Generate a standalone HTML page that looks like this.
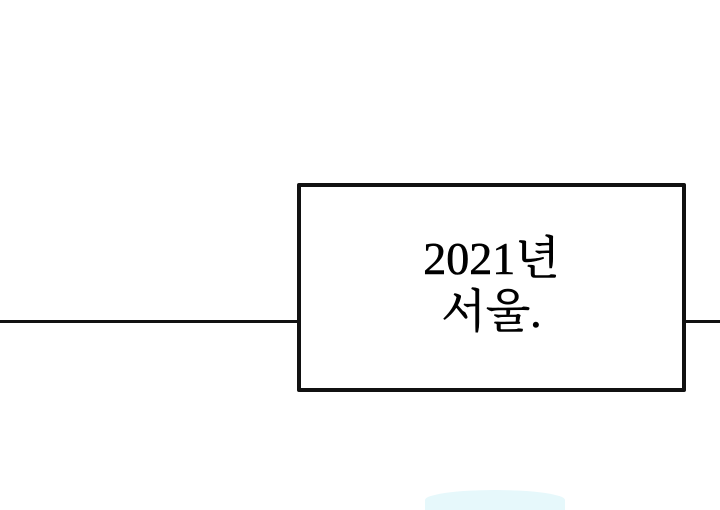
<!DOCTYPE html>
<html><head><meta charset="utf-8"><style>
body{margin:0;width:720px;height:500px;background:#fff;position:relative;overflow:hidden}
.l{position:absolute;height:3px;background:#111;top:320px}
.box{position:absolute;left:297px;top:183px;width:381px;height:201px;border:4px solid #111;border-radius:2px;background:#fff}
.t{position:absolute;left:297px;width:389px;text-align:center;font-family:"Liberation Serif","Noto Serif CJK SC","NanumGothic",serif;font-size:46px;color:#000;line-height:1;-webkit-text-stroke:0.6px #000}
.c{position:absolute;left:425px;top:490px;width:140px;height:20px;background:#e6f8fb;border-radius:50% 50% 0 0}
</style></head><body>
<div class="l" style="left:0;width:300px"></div>
<div class="l" style="left:684px;width:36px"></div>
<div class="box"></div>
<div class="t" style="top:236px">2021년</div>
<div class="t" style="top:289px">서울.</div>
<div class="c"></div>
</body></html>
